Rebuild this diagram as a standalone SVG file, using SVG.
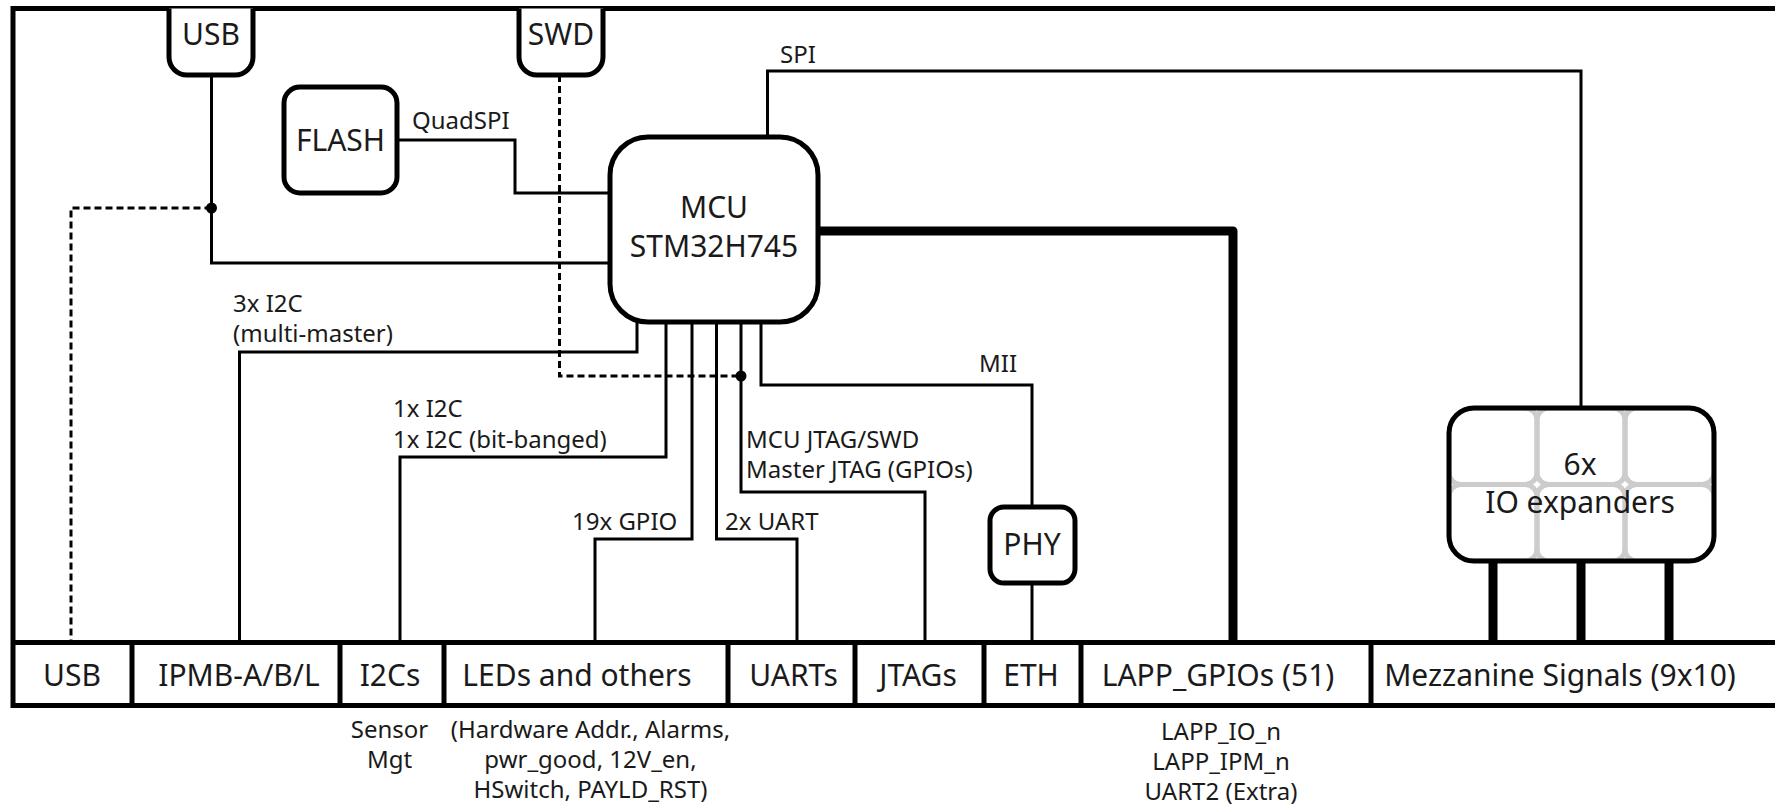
<svg xmlns="http://www.w3.org/2000/svg" width="1775" height="806" viewBox="0 0 1775 806">
  <defs>
    <style>
      .wire { fill: none; stroke: #000; stroke-width: 3; stroke-linejoin: miter; }
      .dash { fill: none; stroke: #000; stroke-width: 3; stroke-dasharray: 7 4; }
      .bus { fill: none; stroke: #000; stroke-width: 9; stroke-linejoin: round; }
      .box { fill: #fff; stroke: #000; stroke-width: 5; }
      .outline { fill: none; stroke: #000; stroke-width: 5; }
      .frame { fill: none; stroke: #000; stroke-width: 5; }
      .big { font-family: "Noto Sans", "Open Sans", sans-serif; font-size: 30px; fill: #1a1a1a; text-anchor: middle; }
      .lbl { font-family: "Noto Sans", "Open Sans", sans-serif; font-size: 24px; fill: #1a1a1a; }
      .note { font-family: "Noto Sans", "Open Sans", sans-serif; font-size: 24px; fill: #1a1a1a; text-anchor: middle; }
      .tile { fill: none; stroke: #cccccc; stroke-width: 5; }
    </style>
    <clipPath id="ioclip">
      <rect x="1449" y="408" width="265" height="153" rx="25"/>
    </clipPath>
  </defs>
  <rect width="1775" height="806" fill="#fff"/>

  <g id="frame">
    <path class="frame" d="M1790,8.5 H13 V705.5 H1790"/>
  </g>

  <g id="connectors">
    <path class="wire" d="M397,140 H515 V193 H610"/>
    <path class="wire" d="M211.5,75 V263 H610"/>
    <path class="dash" d="M211.5,208 H71 V642"/>
    <path class="dash" d="M559.5,75 V376 H741"/>
    <path class="wire" d="M767.5,137 V71 H1581 V408"/>
    <path class="bus" d="M818,231 H1233 V642"/>
    <path class="wire" d="M637,322 V352 H239.5 V642"/>
    <path class="wire" d="M666,322 V457 H400 V642"/>
    <path class="wire" d="M692,322 V539 H595 V642"/>
    <path class="wire" d="M716.5,322 V539 H797 V642"/>
    <path class="wire" d="M741,322 V492 H925 V642"/>
    <path class="wire" d="M761,322 V385 H1032 V507"/>
    <path class="wire" d="M1032,583 V642"/>
    <path class="bus" d="M1493,561 V642 M1581,561 V642 M1669,561 V642"/>
    <circle cx="211.5" cy="208" r="5.5" fill="#000"/>
    <circle cx="741" cy="376" r="5.5" fill="#000"/>
    <text class="lbl" x="412" y="129">QuadSPI</text>
    <text class="lbl" x="780" y="63">SPI</text>
    <text class="lbl" x="233" y="312">3x I2C<tspan x="233" dy="30">(multi-master)</tspan></text>
    <text class="lbl" x="393" y="417">1x I2C<tspan x="393" dy="31">1x I2C (bit-banged)</tspan></text>
    <text class="lbl" x="572" y="530">19x GPIO</text>
    <text class="lbl" x="725" y="530">2x UART</text>
    <text class="lbl" x="746" y="448">MCU JTAG/SWD<tspan x="746" dy="30">Master JTAG (GPIOs)</tspan></text>
    <text class="lbl" x="979" y="372">MII</text>
  </g>

  <g id="usb-port">
    <path class="box" d="M169,8.5 V57 A18,18 0 0 0 187,75 H235 A18,18 0 0 0 253,57 V8.5"/>
    <text class="big" x="211" y="45">USB</text>
  </g>
  <g id="swd-port">
    <path class="box" d="M519,8.5 V57 A18,18 0 0 0 537,75 H585 A18,18 0 0 0 603,57 V8.5"/>
    <text class="big" x="561" y="45">SWD</text>
  </g>
  <g id="flash">
    <rect class="box" x="284" y="87" width="113" height="106" rx="16"/>
    <text class="big" x="340.5" y="151">FLASH</text>
  </g>
  <g id="mcu">
    <rect class="box" x="610" y="137" width="208" height="185" rx="38"/>
    <text class="big" x="714" y="218">MCU<tspan x="714" dy="39">STM32H745</tspan></text>
  </g>
  <g id="phy">
    <rect class="box" x="990" y="507" width="85" height="76" rx="14"/>
    <text class="big" x="1032" y="555">PHY</text>
  </g>
  <g id="io-expanders">
    <rect x="1449" y="408" width="265" height="153" rx="25" fill="#fff"/>
    <g clip-path="url(#ioclip)">
      <rect class="tile" x="1449" y="408" width="88" height="76.5" rx="12"/>
      <rect class="tile" x="1537" y="408" width="88" height="76.5" rx="12"/>
      <rect class="tile" x="1625" y="408" width="89" height="76.5" rx="12"/>
      <rect class="tile" x="1449" y="484.5" width="88" height="76.5" rx="12"/>
      <rect class="tile" x="1537" y="484.5" width="88" height="76.5" rx="12"/>
      <rect class="tile" x="1625" y="484.5" width="89" height="76.5" rx="12"/>
    </g>
    <rect class="outline" x="1449" y="408" width="265" height="153" rx="25"/>
    <text class="big" x="1580" y="475">6x<tspan x="1580" dy="38">IO expanders</tspan></text>
  </g>

  <g id="connector-strip">
    <path class="frame" d="M13,642.5 H1790"/>
    <path class="frame" d="M132,642.5 V705.5 M340,642.5 V705.5 M444,642.5 V705.5 M728,642.5 V705.5 M855,642.5 V705.5 M984,642.5 V705.5 M1081,642.5 V705.5 M1371,642.5 V705.5"/>
    <text class="big" x="72" y="686">USB</text>
    <text class="big" x="239" y="686">IPMB-A/B/L</text>
    <text class="big" x="390" y="686">I2Cs</text>
    <text class="big" x="577" y="686">LEDs and others</text>
    <text class="big" x="793.5" y="686">UARTs</text>
    <text class="big" x="918" y="686">JTAGs</text>
    <text class="big" x="1031" y="686">ETH</text>
    <text class="big" x="1218" y="686">LAPP_GPIOs (51)</text>
    <text class="big" x="1560" y="686">Mezzanine Signals (9x10)</text>
  </g>

  <g id="notes">
    <text class="note" x="389.5" y="738">Sensor<tspan x="389.5" dy="30">Mgt</tspan></text>
    <text class="note" x="590.5" y="738">(Hardware Addr., Alarms,<tspan x="590.5" dy="30">pwr_good, 12V_en,</tspan><tspan x="590.5" dy="30">HSwitch, PAYLD_RST)</tspan></text>
    <text class="note" x="1221" y="740">LAPP_IO_n<tspan x="1221" dy="30">LAPP_IPM_n</tspan><tspan x="1221" dy="30">UART2 (Extra)</tspan></text>
  </g>
</svg>
